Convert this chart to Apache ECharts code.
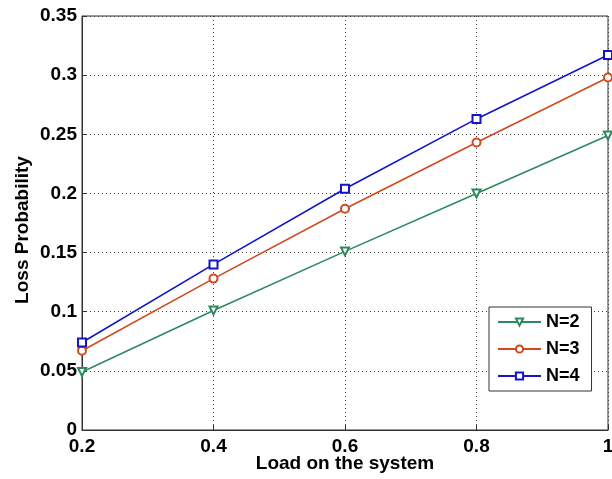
<!DOCTYPE html>
<html>
<head>
<meta charset="utf-8">
<script src="https://cdn.jsdelivr.net/npm/echarts@6/dist/echarts.min.js"></script>
<style>
  html, body { margin: 0; padding: 0; background: #fff; }
  #chart { width: 612px; height: 479px; }
</style>
</head>
<body>
<div id="chart"></div>
<script>
// 数据
const loads = [0.2, 0.4, 0.6, 0.8, 1.0];
const lossN2 = [0.049, 0.101, 0.151, 0.200, 0.249];
const lossN3 = [0.067, 0.128, 0.187, 0.243, 0.298];
const lossN4 = [0.074, 0.140, 0.204, 0.263, 0.317];
const seriesNames = ['N=2', 'N=3', 'N=4'];

const green = '#2E8A5E';
const red = '#D04A1E';
const blue = '#1414C8';

const pairs = (ys) => loads.map((x, i) => [x, ys[i]]);

const font = 'Liberation Sans, Arial, sans-serif';

const chart = echarts.init(document.getElementById('chart'));

const makeSeries = (name, ys, color, symbol, rotate) => ({
  name: name,
  type: 'line',
  data: pairs(ys),
  symbol: symbol,
  symbolSize: 8,
  symbolRotate: rotate,
  showAllSymbol: true,
  lineStyle: { color: color, width: 1.6 },
  itemStyle: { color: color, borderWidth: 1.5 },
  emphasis: { disabled: true },
  z: 3
});

chart.setOption({
  animation: false,
  backgroundColor: '#fff',
  grid: {
    left: 82,
    right: 4,
    top: 16,
    bottom: 49,
    outerBoundsMode: 'none',
    containLabel: false,
    show: true,
    borderColor: '#333',
    borderWidth: 1
  },
  legend: {
    data: seriesNames,
    orient: 'vertical',
    left: 489,
    top: 307,
    itemWidth: 43,
    itemHeight: 9,
    itemGap: 9,
    padding: [6, 12, 6, 8],
    backgroundColor: '#fff',
    borderColor: '#333',
    borderWidth: 1,
    textStyle: { fontFamily: font, fontWeight: 'bold', fontSize: 18, color: '#000' }
  },
  xAxis: {
    type: 'value',
    min: 0.2,
    max: 1,
    interval: 0.2,
    name: 'Load on the system',
    nameLocation: 'middle',
    nameGap: 24,
    nameMoveOverlap: false,
    nameTextStyle: { fontFamily: font, fontWeight: 'bold', fontSize: 19, color: '#000' },
    axisLine: { show: true, lineStyle: { color: '#333' } },
    axisTick: { show: true, inside: true, length: 5, lineStyle: { color: '#333' } },
    axisLabel: {
      fontFamily: font, fontWeight: 'bold', fontSize: 19, color: '#000', margin: 7,
      formatter: (v) => (Math.round(v * 10) / 10).toString()
    },
    splitLine: { show: true, lineStyle: { color: '#444', type: [1, 3], width: 1 } }
  },
  yAxis: {
    type: 'value',
    min: 0,
    max: 0.35,
    interval: 0.05,
    name: 'Loss Probability',
    nameLocation: 'middle',
    nameGap: 50,
    nameMoveOverlap: false,
    nameTextStyle: {
      fontFamily: font, fontWeight: 'bold', fontSize: 19, color: '#000',
      padding: [0, 14, 0, 0]
    },
    axisLine: { show: true, lineStyle: { color: '#333' } },
    axisTick: { show: true, inside: true, length: 5, lineStyle: { color: '#333' } },
    axisLabel: {
      fontFamily: font, fontWeight: 'bold', fontSize: 19, color: '#000', margin: 5,
      formatter: (v) => (Math.round(v * 100) / 100).toString()
    },
    splitLine: { show: true, lineStyle: { color: '#444', type: [1, 3], width: 1 } }
  },
  series: [
    makeSeries('N=2', lossN2, green, 'emptyTriangle', 180),
    makeSeries('N=3', lossN3, red, 'emptyCircle', 0),
    makeSeries('N=4', lossN4, blue, 'emptyRect', 0)
  ]
});
</script>
</body>
</html>
